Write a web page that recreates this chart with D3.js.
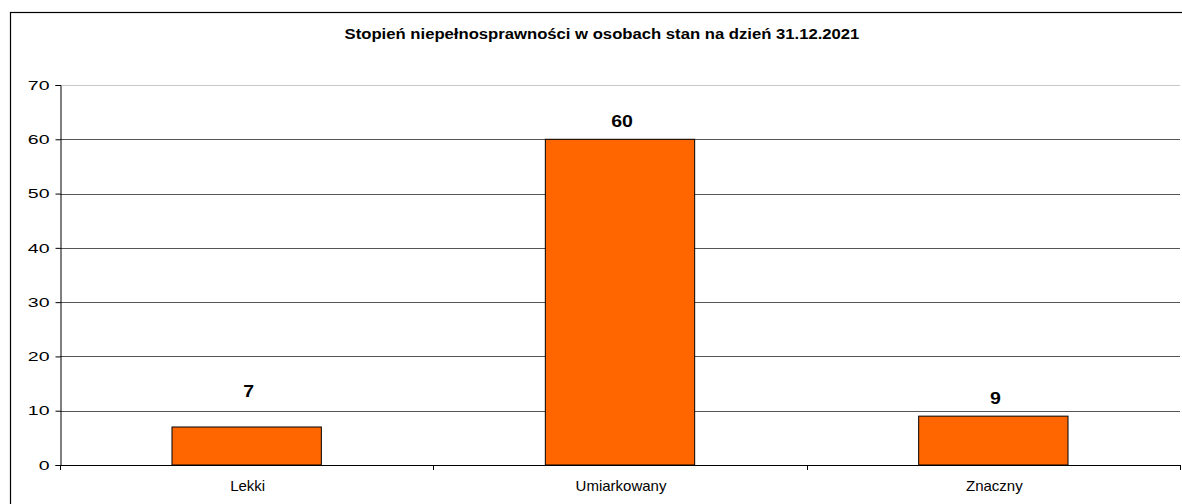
<!DOCTYPE html>
<html><head><meta charset="utf-8">
<script src="https://cdn.jsdelivr.net/npm/d3@7"></script>
<style>
body{margin:0;background:#fff;}
text{font-family:"Liberation Sans",Arial,sans-serif;}
</style></head>
<body><svg id="c" width="1182" height="504"></svg>
<script>
const title = "Stopień niepełnosprawności w osobach stan na dzień 31.12.2021";
const categories = ["Lekki","Umiarkowany","Znaczny"];
const values = [7,60,9];
const yTicks = [0,10,20,30,40,50,60,70];

const svg = d3.select("#c");
const m = {left:60, right:1180, top:85, bottom:465};

function stretch(sel, k){
  sel.each(function(){
    const w = this.getComputedTextLength();
    d3.select(this).attr("textLength", w*k).attr("lengthAdjust","spacingAndGlyphs");
  });
}

svg.append("rect").attr("x",10.5).attr("y",12.5).attr("width",1180).attr("height",500)
  .attr("fill","none").attr("stroke","#000").attr("stroke-width",1.2);

svg.append("text").attr("x",602).attr("y",39).attr("text-anchor","middle")
  .attr("font-size",14).attr("font-weight","bold")
  .text(title).call(stretch,1.19);

const x = d3.scaleBand().domain(categories).range([m.left,m.right]).paddingInner(0).paddingOuter(0);
const y = d3.scaleLinear().domain([0,70]).range([m.bottom,m.top]);

// gridlines
svg.append("g").selectAll("line").data(yTicks.filter(d=>d>0)).join("line")
  .attr("x1",m.left).attr("x2",m.right)
  .attr("y1",d=>Math.round(y(d))+0.5).attr("y2",d=>Math.round(y(d))+0.5)
  .attr("stroke",d=>d===70?"#c8c8c8":"#555").attr("stroke-width",1);

// y axis
const ya = svg.append("g").attr("transform",`translate(${m.left+0.5},0)`)
  .call(d3.axisLeft(y).tickValues(yTicks).tickSize(5).tickPadding(6));
ya.select(".domain").attr("stroke","#000");
ya.selectAll(".tick line").attr("stroke","#000");
ya.selectAll(".tick text").attr("font-size",13)
  .attr("font-family","Liberation Sans, Arial, sans-serif").attr("fill","#000")
  .call(stretch,1.5);

// bars
const bw = x.bandwidth()*0.4;
svg.append("g").selectAll("rect").data(values).join("rect")
  .attr("x",(d,i)=>x(categories[i])+x.bandwidth()/2-bw/2)
  .attr("y",d=>y(d))
  .attr("width",bw)
  .attr("height",d=>y(0)-y(d))
  .attr("fill","#ff6600").attr("stroke","#000").attr("stroke-width",1);

// x axis
svg.append("line").attr("x1",m.left).attr("x2",m.right)
  .attr("y1",m.bottom+0.5).attr("y2",m.bottom+0.5).attr("stroke","#000");
const bounds = categories.map(c=>x(c)).concat([m.right]);
svg.append("g").selectAll("line").data(bounds).join("line")
  .attr("x1",d=>Math.round(d)+0.5).attr("x2",d=>Math.round(d)+0.5)
  .attr("y1",m.bottom).attr("y2",m.bottom+5).attr("stroke","#000");
svg.append("g").selectAll("text").data(categories).join("text")
  .attr("x",d=>x(d)+x.bandwidth()/2+1).attr("y",491)
  .attr("text-anchor","middle").attr("font-size",15)
  .text(d=>d).call(stretch,1.0);

// value labels (moved above a gridline if they would collide with it)
function labelY(v){
  let b = y(v) - 12;
  yTicks.forEach(t=>{
    const gy = y(t);
    if (t>0 && gy > b-12 && gy < b+2) b = gy - 14;
  });
  return b;
}
svg.append("g").selectAll("text").data(values).join("text")
  .attr("x",(d,i)=>x(categories[i])+x.bandwidth()/2+2).attr("y",d=>labelY(d))
  .attr("text-anchor","middle").attr("font-size",16).attr("font-weight","bold")
  .text(d=>d).call(stretch,1.22);
</script></body></html>
